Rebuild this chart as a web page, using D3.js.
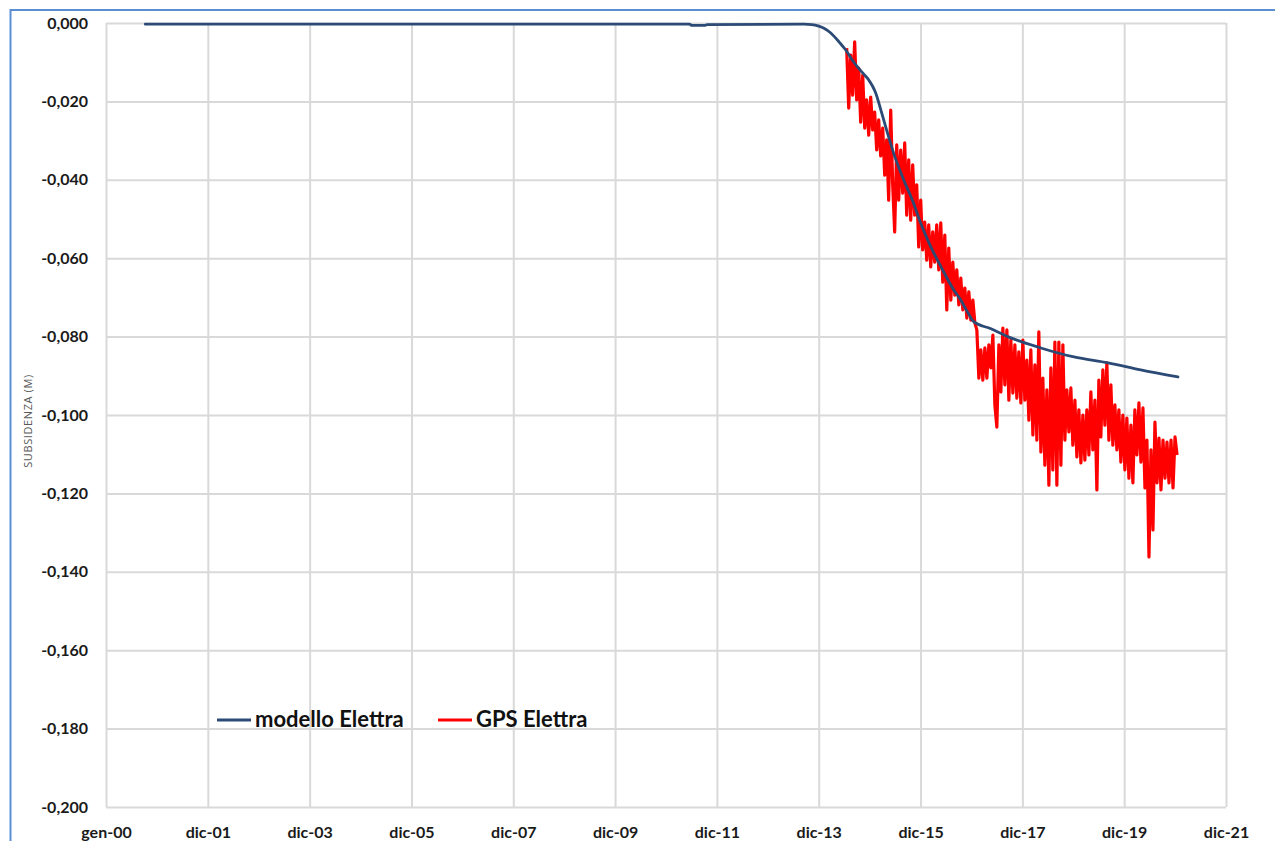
<!DOCTYPE html>
<html>
<head>
<meta charset="utf-8">
<script src="https://cdn.jsdelivr.net/npm/d3@7"></script>
<style>
  html, body { margin: 0; padding: 0; background: #ffffff; }
  svg { display: block; }
</style>
</head>
<body>
<svg id="chart" width="1275" height="841"></svg>
<script>
// ---------------- DATA ----------------
const xTickDates = ["2000-01-01","2001-12-31","2003-12-31","2005-12-30","2007-12-30","2009-12-29",
                    "2011-12-29","2013-12-28","2015-12-28","2017-12-27","2019-12-27","2021-12-26"];
const xTickLabels = ["gen-00","dic-01","dic-03","dic-05","dic-07","dic-09",
                     "dic-11","dic-13","dic-15","dic-17","dic-19","dic-21"];
const yTickValues = [0,-0.02,-0.04,-0.06,-0.08,-0.10,-0.12,-0.14,-0.16,-0.18,-0.20];

const seriesNames = ["modello Elettra","GPS Elettra"];

// model series (decimal years, metres)
const modelYears = [2000.77,2011.45,2011.50,2011.75,2011.80,2013.70,2013.85,2013.99,2014.10,2014.22,
                    2014.40,2014.52,2014.65,2014.75,2014.87,2014.97,2015.05,2015.11,2015.21,2015.34,
                    2015.46,2015.66,2015.85,2015.99,2016.19,2016.39,2016.64,2016.78,2016.92,2017.03,
                    2017.37,2017.70,2018.35,2019.00,2019.67,2020.31,2021.04];
const modelValues = [-0.0003,-0.0003,-0.0006,-0.0006,-0.0004,-0.0003,-0.0004,-0.0008,-0.0014,-0.0025,
                     -0.0050,-0.0069,-0.0095,-0.0112,-0.0130,-0.0145,-0.0162,-0.0179,-0.0222,-0.0281,
                     -0.0332,-0.0401,-0.0459,-0.0510,-0.0571,-0.0622,-0.0681,-0.0707,-0.0740,-0.0762,
                     -0.0780,-0.0800,-0.0829,-0.0852,-0.0867,-0.0885,-0.0903];

// GPS series (decimal years, metres)
const gpsYears = [
 2014.538,2014.578,2014.617,2014.656,2014.695,2014.735,2014.774,2014.813,2014.853,2014.892,
 2014.931,2014.971,2015.010,2015.049,2015.088,2015.128,2015.167,2015.206,2015.246,2015.285,
 2015.324,2015.363,2015.403,2015.442,2015.481,2015.521,2015.560,2015.599,2015.639,2015.678,
 2015.717,2015.756,2015.796,2015.835,2015.874,2015.914,2015.953,2015.992,2016.031,2016.071,
 2016.110,2016.149,2016.189,2016.228,2016.267,2016.306,2016.346,2016.385,2016.424,2016.464,
 2016.503,2016.542,2016.582,2016.621,2016.660,2016.699,2016.739,2016.778,2016.817,2016.857,
 2016.896,2016.935,2016.974,2017.014,2017.053,2017.092,2017.132,2017.171,2017.210,2017.250,
 2017.289,2017.328,2017.367,2017.407,2017.446,2017.485,2017.525,2017.564,2017.603,2017.642,
 2017.682,2017.721,2017.760,2017.800,2017.839,2017.878,2017.917,2017.957,2017.996,2018.035,
 2018.075,2018.114,2018.153,2018.193,2018.232,2018.271,2018.310,2018.350,2018.389,2018.428,
 2018.468,2018.507,2018.546,2018.585,2018.625,2018.664,2018.703,2018.743,2018.782,2018.821,
 2018.861,2018.900,2018.939,2018.978,2019.018,2019.057,2019.096,2019.136,2019.175,2019.214,
 2019.253,2019.293,2019.332,2019.371,2019.411,2019.450,2019.489,2019.528,2019.568,2019.607,
 2019.646,2019.686,2019.725,2019.764,2019.804,2019.843,2019.882,2019.921,2019.961,2020.000,
 2020.039,2020.079,2020.118,2020.157,2020.196,2020.236,2020.275,2020.314,2020.354,2020.393,
 2020.432,2020.472,2020.511,2020.550,2020.589,2020.629,2020.668,2020.707,2020.747,2020.786,
 2020.825,2020.864,2020.904,2020.943,2020.982,2021.022];
const gpsValues = [
 -0.0064,-0.0217,-0.0082,-0.0184,-0.0048,-0.0196,-0.0115,-0.0253,-0.0133,-0.0268,
 -0.0196,-0.0286,-0.0189,-0.0273,-0.0227,-0.0324,-0.0247,-0.0339,-0.0268,-0.0388,
 -0.0298,-0.0452,-0.0222,-0.0413,-0.0533,-0.0311,-0.0452,-0.0324,-0.0434,-0.0306,
 -0.0490,-0.0349,-0.0503,-0.0362,-0.0490,-0.0413,-0.0571,-0.0452,-0.0579,-0.0508,
 -0.0605,-0.0515,-0.0622,-0.0533,-0.0610,-0.0515,-0.0630,-0.0510,-0.0661,-0.0541,
 -0.0732,-0.0574,-0.0707,-0.0610,-0.0694,-0.0630,-0.0719,-0.0651,-0.0732,-0.0676,
 -0.0753,-0.0686,-0.0758,-0.0707,-0.0765,-0.0783,-0.0906,-0.0834,-0.0911,-0.0829,
 -0.0906,-0.0821,-0.0880,-0.0796,-0.0974,-0.1031,-0.0821,-0.0941,-0.0778,-0.0923,
 -0.0783,-0.0962,-0.0809,-0.0944,-0.0821,-0.0957,-0.0839,-0.0969,-0.0809,-0.0962,
 -0.0860,-0.1013,-0.0834,-0.1051,-0.0872,-0.1064,-0.0788,-0.1094,-0.0906,-0.1128,
 -0.0936,-0.1179,-0.0880,-0.1140,-0.0814,-0.1179,-0.0814,-0.1128,-0.0821,-0.1064,
 -0.0936,-0.1043,-0.0931,-0.1077,-0.0962,-0.1107,-0.0987,-0.1122,-0.1000,-0.1115,
 -0.0987,-0.1102,-0.0941,-0.1089,-0.0962,-0.1191,-0.0911,-0.1056,-0.0885,-0.1026,
 -0.0867,-0.1064,-0.0923,-0.1077,-0.0974,-0.1089,-0.0987,-0.1120,-0.1000,-0.1140,
 -0.1008,-0.1161,-0.1026,-0.1173,-0.0987,-0.1102,-0.0969,-0.1120,-0.0982,-0.1186,
 -0.1064,-0.1362,-0.1089,-0.1293,-0.1018,-0.1173,-0.1059,-0.1191,-0.1064,-0.1161,
 -0.1069,-0.1173,-0.1064,-0.1186,-0.1056,-0.1102];

// ---------------- HELPERS ----------------
function decYearToDate(d) {
  const y = Math.floor(d);
  const a = new Date(y, 0, 1).getTime(), b = new Date(y + 1, 0, 1).getTime();
  return new Date(a + (d - y) * (b - a));
}
const parseDay = d3.timeParse("%Y-%m-%d");
const modelData = modelYears.map((y, i) => ({ date: decYearToDate(y), value: modelValues[i] }));
const gpsData = gpsYears.map((y, i) => ({ date: decYearToDate(y), value: gpsValues[i] }));
const tickDates = xTickDates.map(parseDay);

const itLocale = d3.formatLocale({ decimal: ",", thousands: ".", grouping: [3], currency: ["€", ""], minus: "-" });
const yFmt = itLocale.format(".3f");

// ---------------- LAYOUT ----------------
const svg = d3.select("#chart");
const plot = { left: 106, right: 1226, top: 23, bottom: 807 };

const x = d3.scaleTime().domain([tickDates[0], tickDates[tickDates.length - 1]]).range([plot.left, plot.right]);
const y = d3.scaleLinear().domain([-0.2, 0]).range([plot.bottom, plot.top]);

const gridColor = "#d9d9d9";
const font = "Lato, 'Open Sans', 'DejaVu Sans', sans-serif";

// outer chart border (blue)
svg.append("line").attr("x1", 10.5).attr("x2", 10.5).attr("y1", 9).attr("y2", 841)
  .attr("stroke", "#5b8fd3").attr("stroke-width", 2);
svg.append("line").attr("x1", 10).attr("x2", 1275).attr("y1", 10).attr("y2", 10)
  .attr("stroke", "#5b8fd3").attr("stroke-width", 2);

// vertical gridlines
const xGrid = d3.axisBottom(x).tickValues(tickDates).tickSize(-(plot.bottom - plot.top)).tickFormat("");
svg.append("g").attr("transform", `translate(0,${plot.bottom})`).call(xGrid)
  .call(g => g.select(".domain").remove())
  .call(g => g.selectAll("line").attr("stroke", gridColor).attr("stroke-width", 2));

// horizontal gridlines
const yGrid = d3.axisLeft(y).tickValues(yTickValues).tickSize(-(plot.right - plot.left)).tickFormat("");
svg.append("g").attr("transform", `translate(${plot.left},0)`).call(yGrid)
  .call(g => g.select(".domain").remove())
  .call(g => g.selectAll("line").attr("stroke", gridColor).attr("stroke-width", 2));

// y axis labels
const yAxis = d3.axisLeft(y).tickValues(yTickValues).tickSize(0).tickPadding(18).tickFormat(yFmt);
svg.append("g").attr("transform", `translate(${plot.left},0)`).call(yAxis)
  .call(g => g.select(".domain").remove())
  .call(g => g.selectAll("text").attr("font-family", font).attr("font-weight", 700)
    .attr("font-size", 16).attr("fill", "#1a1a1a"));

// x axis labels
const xAxis = d3.axisBottom(x).tickValues(tickDates).tickSize(0).tickPadding(20)
  .tickFormat((d, i) => xTickLabels[i]);
svg.append("g").attr("transform", `translate(0,${plot.bottom})`).call(xAxis)
  .call(g => g.select(".domain").remove())
  .call(g => g.selectAll("text").attr("font-family", font).attr("font-weight", 700)
    .attr("font-size", 16).attr("fill", "#1a1a1a"));

// y axis title
svg.append("text")
  .attr("transform", "translate(32,421) rotate(-90)")
  .attr("text-anchor", "middle")
  .attr("font-family", "'Open Sans', 'DejaVu Sans', sans-serif")
  .attr("font-size", 11).attr("letter-spacing", 0.6).attr("fill", "#595959")
  .text("SUBSIDENZA (M)");

// series lines
const line = d3.line().x(d => x(d.date)).y(d => y(d.value));
svg.append("path").datum(gpsData)
  .attr("fill", "none").attr("stroke", "#ff0000").attr("stroke-width", 3.2)
  .attr("stroke-linejoin", "round").attr("d", line);

const modelLine = d3.line().x(d => x(d.date)).y(d => y(d.value)).curve(d3.curveMonotoneX);
svg.append("path").datum(modelData)
  .attr("fill", "none").attr("stroke", "#2b4a75").attr("stroke-width", 2.8)
  .attr("stroke-linecap", "round").attr("d", modelLine);

// legend
const legend = svg.append("g");
const legendItems = [
  { name: seriesNames[0], color: "#2b4a75", x0: 217 },
  { name: seriesNames[1], color: "#ff0000", x0: 438 }
];
legendItems.forEach(it => {
  legend.append("line").attr("x1", it.x0).attr("x2", it.x0 + 34).attr("y1", 720).attr("y2", 720)
    .attr("stroke", it.color).attr("stroke-width", 3);
  legend.append("text").attr("x", it.x0 + 38).attr("y", 727)
    .attr("font-family", font).attr("font-weight", 700).attr("font-size", 22)
    .attr("fill", "#111").text(it.name);
});
</script>
</body>
</html>
